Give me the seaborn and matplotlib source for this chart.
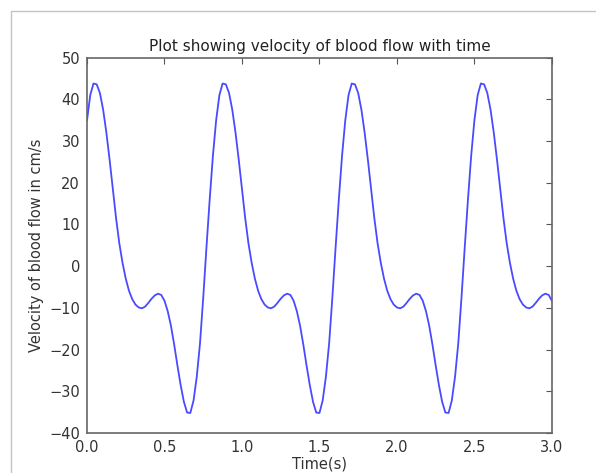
import numpy as np
import pandas as pd
import matplotlib
matplotlib.use("Agg")
import matplotlib.pyplot as plt
import seaborn as sns
from matplotlib.lines import Line2D

# Velocity readings (cm/s), sampled every 1/48 s from 0 to 3 s
velocity = [
    35, 41, 43.8, 43.6, 41.5, 37.5, 32, 25.5, 18.5, 11.5, 5.5, 0.8, -3, -5.9, -7.9, -9.2, -9.9, -10.1, -9.7, -8.8,
    -7.8, -7.0, -6.6, -6.9, -8.3, -10.8, -14.3, -18.8, -23.8, -28.5, -32.5, -35.1, -35.2, -32.2, -26.5, -18.5, -7.5, 4.5, 16, 26.5,
    35, 41, 43.8, 43.6, 41.5, 37.5, 32, 25.5, 18.5, 11.5, 5.5, 0.8, -3, -5.9, -7.9, -9.2, -9.9, -10.1, -9.7, -8.8,
    -7.8, -7.0, -6.6, -6.9, -8.3, -10.8, -14.3, -18.8, -23.8, -28.5, -32.5, -35.1, -35.2, -32.2, -26.5, -18.5, -7.5, 4.5, 16, 26.5,
    35, 41, 43.8, 43.6, 41.5, 37.5, 32, 25.5, 18.5, 11.5, 5.5, 0.8, -3, -5.9, -7.9, -9.2, -9.9, -10.1, -9.7, -8.8,
    -7.8, -7.0, -6.6, -6.9, -8.3, -10.8, -14.3, -18.8, -23.8, -28.5, -32.5, -35.1, -35.2, -32.2, -26.5, -18.5, -7.5, 4.5, 16, 26.5,
    35, 41, 43.8, 43.6, 41.5, 37.5, 32, 25.5, 18.5, 11.5, 5.5, 0.8, -3, -5.9, -7.9, -9.2, -9.9, -10.1, -9.7, -8.8,
    -7.8, -7.0, -6.6, -6.9, -8.3,
]
time = np.linspace(0, 3, len(velocity))

x_ticks = [0.0, 0.5, 1.0, 1.5, 2.0, 2.5, 3.0]
y_ticks = [-40, -30, -20, -10, 0, 10, 20, 30, 40, 50]

df = pd.DataFrame({"t": time, "v": velocity})

sns.set_style("white")
plt.rcParams["font.family"] = ["DejaVu Sans"]
plt.rcParams["axes.unicode_minus"] = True

fig = plt.figure(figsize=(5.96, 4.73), dpi=100)
ax = fig.add_axes([0.146, 0.0846, 0.78, 0.7935])

sns.lineplot(data=df, x="t", y="v", ax=ax, color="#4a4aff", linewidth=1.3)

ax.set_xlim(0, 3)
ax.set_ylim(-40, 50)
ax.set_xticks(x_ticks)
ax.set_xticklabels([f"{v:.1f}" for v in x_ticks])
ax.set_yticks(y_ticks)
ax.set_yticklabels([str(v).replace("-", "\u2212") for v in y_ticks])

ax.tick_params(direction="in", length=4, width=0.8, top=True, right=True,
               colors="#555555", labelcolor="#333333", labelsize=10.5, pad=5)
for s in ax.spines.values():
    s.set_color("#666666")
    s.set_linewidth(1.2)

ax.set_title("Plot showing velocity of blood flow with time", fontsize=11, color="#222222", pad=5)
ax.set_xlabel("Time(s)", fontsize=10.5, color="#333333", labelpad=1)
ax.set_ylabel("Velocity of blood flow in cm/s", fontsize=10.5, color="#333333", labelpad=4)

# light frame of the screenshot
fig.add_artist(Line2D([11 / 596, 11 / 596], [0, 1 - 11 / 473], transform=fig.transFigure,
                      color="#c4c4c4", linewidth=1))
fig.add_artist(Line2D([11 / 596, 1], [1 - 11 / 473, 1 - 11 / 473], transform=fig.transFigure,
                      color="#c4c4c4", linewidth=1))

fig.savefig("out.png", dpi=100)
